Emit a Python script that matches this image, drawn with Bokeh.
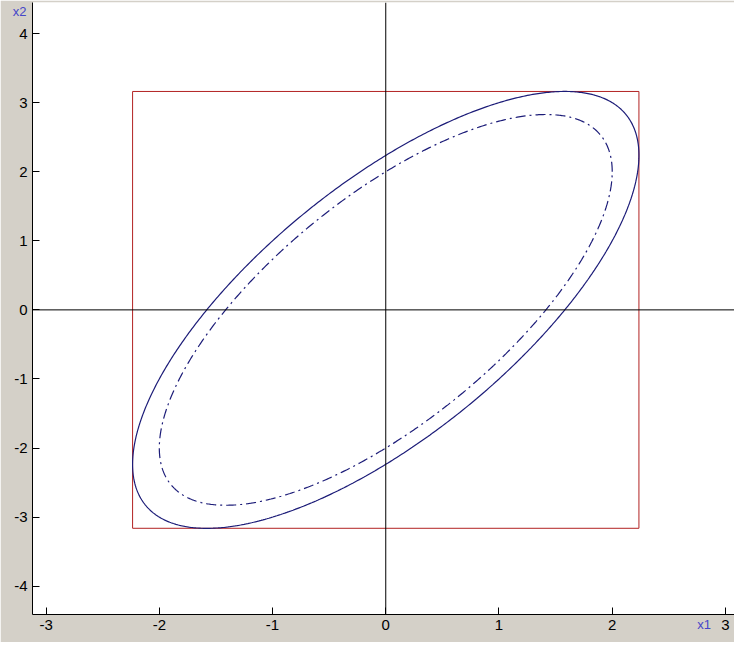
import numpy as np
from bokeh.plotting import figure
from bokeh.models import Span, FixedTicker, Range1d, LinearAxis
from bokeh.embed import file_html
from bokeh.resources import INLINE

# --- data ---
x_ticks = [-3, -2, -1, 0, 1, 2, 3]
y_ticks = [-4, -3, -2, -1, 0, 1, 2, 3, 4]
cov_xx = 5.0      # variance of x1
cov_yy = 10.0     # variance of x2
cov_xy = 5.0      # covariance
levels = [1.0, 0.8]           # solid ellipse, dash-dot ellipse
level_dash = ["solid", "10 4 2 4"]
box_x = [-2.236, 2.236, 2.236, -2.236, -2.236]
box_y = [-3.162, -3.162, 3.162, 3.162, -3.162]
x_name, x_name_at = "x1", 2.8125
y_name, y_name_at = "x2", 4.3125

X0, X1 = -3.12, 3.08
Y0, Y1 = -4.41, 4.45

p = figure(width=734, height=642, x_range=Range1d(X0, X1),
           y_range=Range1d(Y0, Y1), output_backend="svg",
           toolbar_location=None, title=None,
           min_border_left=32, min_border_right=0, min_border_top=2,
           min_border_bottom=28)
p.background_fill_color = "white"
p.border_fill_color = "#d4d0c8"
p.outline_line_color = None
p.grid.visible = False


def style(ax, ticks, color="black"):
    ax.ticker = FixedTicker(ticks=ticks)
    ax.major_tick_in = 7
    ax.major_tick_out = 0
    ax.minor_tick_line_color = None
    ax.axis_line_color = "black"
    ax.major_tick_line_color = "black"
    ax.major_label_text_font = "Liberation Sans"
    ax.major_label_text_font_size = "15px"
    ax.major_label_text_color = color
    ax.major_label_standoff = 5
    ax.major_label_overrides = {t: str(t) for t in ticks if isinstance(t, int)}


style(p.xaxis[0], x_ticks)
style(p.yaxis[0], y_ticks)

# axis names: extra axes pulled back onto the main axes' label rows
xa = LinearAxis()
style(xa, [x_name_at], "#4646c8")
xa.major_label_overrides = {x_name_at: x_name}
xa.axis_line_color = None
xa.major_tick_line_color = None
xa.major_tick_in = 0
xa.major_label_text_font_size = "13px"
xa.major_label_standoff = -16
p.add_layout(xa, "below")

ya = LinearAxis()
style(ya, [y_name_at], "#4646c8")
ya.major_label_overrides = {y_name_at: y_name}
ya.axis_line_color = None
ya.major_tick_line_color = None
ya.major_tick_in = 0
ya.major_label_text_font_size = "13px"
ya.major_label_standoff = -15
p.add_layout(ya, "left")

# axes through the origin
p.add_layout(Span(location=0, dimension="width", line_color="black", line_width=1))
p.add_layout(Span(location=0, dimension="height", line_color="black", line_width=1))

# box
p.line(box_x, box_y, line_color="#b22222", line_width=1)

# ellipses
S = np.array([[cov_xx, cov_xy], [cov_xy, cov_yy]])
t = np.linspace(0, 2 * np.pi, 721)
circle = np.vstack([np.cos(t), np.sin(t)])
for lev, dash in zip(levels, level_dash):
    L = np.linalg.cholesky(S * lev)
    pts = L @ circle
    p.line(pts[0], pts[1], line_color="#1c1c78", line_width=1.2, line_dash=dash)

open("out.html", "w").write(file_html(p, INLINE))
